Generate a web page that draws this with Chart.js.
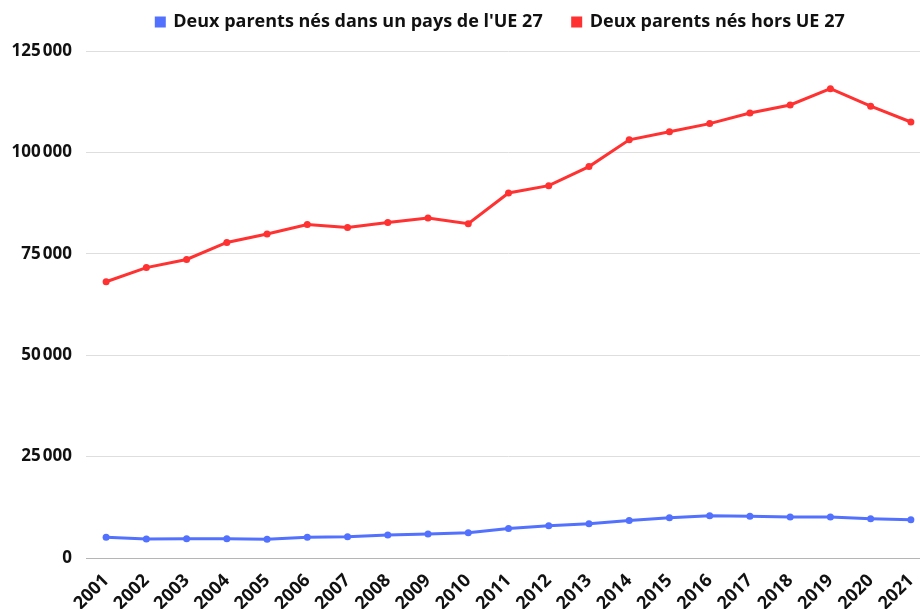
<!DOCTYPE html>
<html>
<head>
<meta charset="utf-8">
<script src="https://cdn.jsdelivr.net/npm/chart.js@4"></script>
<style>
  html, body { margin: 0; padding: 0; background: #fff; overflow: hidden; }
  #box { width: 1000px; height: 609px; }
</style>
</head>
<body>
<div id="box"><canvas id="graphique"></canvas></div>
<script>
var annees = ['2001', '2002', '2003', '2004', '2005', '2006', '2007', '2008', '2009', '2010', '2011',
              '2012', '2013', '2014', '2015', '2016', '2017', '2018', '2019', '2020', '2021'];

// Deux parents nés dans un pays de l'UE 27
var parentsUE = [5100, 4700, 4750, 4750, 4600, 5100, 5250, 5650, 5900, 6200, 7300,
                 7950, 8450, 9250, 9900, 10400, 10300, 10100, 10100, 9700, 9450];

// Deux parents nés hors UE 27
var parentsHorsUE = [68100, 71600, 73600, 77800, 79900, 82200, 81500, 82700, 83800, 82400, 90000,
                     91800, 96500, 103100, 105100, 107100, 109700, 111700, 115700, 111400, 107500];

var graduations = [0, 25000, 50000, 75000, 100000, 125000];

var police = "'Open Sans', sans-serif";
var bleu = 'rgb(82, 113, 255)';
var rouge = 'rgb(255, 49, 49)';

// petit décalage de la légende (elle n'est pas centrée sur le canvas dans l'original)
var decalerLegende = {
    id: 'decalerLegende',
    afterLayout: function (chart) {
        var leg = chart.legend;
        leg.left += 35; leg.right += 35;
        leg.top -= 10; leg.bottom -= 10;
    }
};

var ctx = document.getElementById('graphique').getContext('2d');

var grafico = new Chart(ctx, {
    type: 'line',
    data: {
        labels: annees,
        datasets: [{
            label: "Deux parents nés dans un pays de l'UE 27",
            data: parentsUE,
            borderColor: bleu,
            backgroundColor: bleu,
            borderWidth: 3,
            pointRadius: 3.5,
            pointBorderWidth: 0,
            tension: 0
        }, {
            label: 'Deux parents nés hors UE 27',
            data: parentsHorsUE,
            borderColor: rouge,
            backgroundColor: rouge,
            borderWidth: 3,
            pointRadius: 3.5,
            pointBorderWidth: 0,
            tension: 0
        }]
    },
    plugins: [decalerLegende],
    options: {
        responsive: true,
        maintainAspectRatio: false,
        animation: false,
        layout: { padding: { left: 0, right: 69, top: -7, bottom: 0 } },
        plugins: {
            legend: {
                position: 'top',
                labels: {
                    boxWidth: 8,
                    boxHeight: 8,
                    padding: 30,
                    color: '#111',
                    font: { family: police, size: 18, weight: 'bold' }
                }
            },
            tooltip: { enabled: false }
        },
        scales: {
            x: {
                offset: true,
                grid: { display: false },
                border: { color: '#b5b5b5', width: 1 },
                ticks: {
                    minRotation: 45,
                    maxRotation: 45,
                    autoSkip: false,
                    color: '#111',
                    padding: 4,
                    font: { family: police, size: 18, weight: 'bold' }
                },
                afterFit: function (axe) { axe.height = 51; }
            },
            y: {
                min: 0,
                max: 125000,
                afterBuildTicks: function (axe) {
                    axe.ticks = graduations.map(function (v) { return { value: v }; });
                },
                grid: { color: '#dedede', drawTicks: false },
                border: { display: false },
                ticks: {
                    padding: 14,
                    color: '#111',
                    font: { family: police, size: 17, weight: 'bold' },
                    callback: function (v) { return v.toLocaleString('fr-FR'); }
                },
                afterFit: function (axe) { axe.width = 86; }
            }
        }
    }
});
</script>
</body>
</html>
